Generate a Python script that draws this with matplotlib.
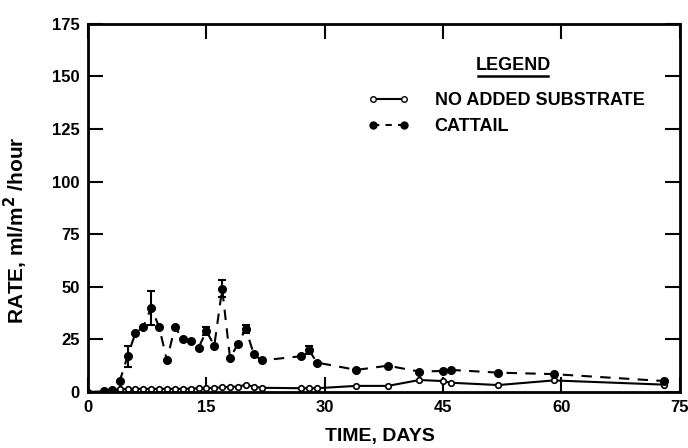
import numpy as np
import matplotlib
matplotlib.use('Agg')
from matplotlib import pyplot as plt
from matplotlib.lines import Line2D

# 資料 (從圖上讀取的估計值)
days_none = [0, 2, 3, 4, 5, 6, 7, 8, 9, 10, 11, 12, 13, 14, 15, 16, 17, 18, 19, 20, 21, 22,
             27, 28, 29, 34, 38, 42, 45, 46, 52, 59, 73]
rate_none = [0, 0.3, 0.8, 1.2, 1.4, 1.5, 1.5, 1.5, 1.5, 1.5, 1.5, 1.5, 1.6, 1.8, 1.8, 2.0, 2.2, 2.5, 2.5, 3.5, 2.5, 2.0,
             1.8, 1.8, 1.8, 2.9, 2.9, 5.7, 5.2, 4.4, 3.3, 5.5, 3.5]

days_cattail = [2, 3, 4, 5, 6, 7, 8, 9, 10, 11, 12, 13, 14, 15, 16, 17, 18, 19, 20, 21, 22,
                27, 28, 29, 34, 38, 42, 45, 46, 52, 59, 73]
rate_cattail = [0.3, 1, 5, 17, 28, 31, 40, 31, 15, 31, 25, 24, 21, 29, 22, 49, 16, 23, 30, 18, 15,
                17, 20, 14, 10.5, 12.5, 9.7, 10, 10.5, 9.2, 8.5, 5.2]
err_cattail = [0, 0, 0, 5, 0, 0, 8, 0, 0, 0, 0, 0, 0, 2, 0, 4, 0, 0, 2, 0, 0,
               0, 2, 0, 0, 0, 0, 0, 0, 0, 0, 0]

xticks = [0, 15, 30, 45, 60, 75]
yticks = [0, 25, 50, 75, 100, 125, 150, 175]

plt.rcParams['font.family'] = ['Liberation Sans', 'DejaVu Sans']
plt.rcParams['font.weight'] = 'bold'

fig = plt.figure(figsize=(6.88, 4.48), dpi=100)
ax = fig.add_axes([0.128, 0.125, 0.86, 0.822])

ax.plot(days_none, rate_none, '-', color='black', lw=1.5,
        marker='o', ms=4, mfc='white', mec='black', mew=1.2)
ax.errorbar(days_cattail, rate_cattail, yerr=err_cattail, fmt='o', ls=(0, (5, 4)),
            color='black', lw=1.5, ms=5.5, capsize=3, elinewidth=1.5, capthick=1.5)

ax.set_xlim(0, 75)
ax.set_ylim(0, 175)
ax.set_xticks(xticks)
ax.set_yticks(yticks)
ax.tick_params(direction='in', length=11, width=1.5, top=True, right=True,
               labelsize=12, pad=6)
for s in ax.spines.values():
    s.set_linewidth(2)

ax.set_xlabel('TIME, DAYS', fontsize=14, fontweight='bold', va='center')
ax.xaxis.set_label_coords(0.493, -0.122)
ax.set_ylabel('RATE, ml/m$^\\mathbf{2}$ /hour', fontsize=15, fontweight='bold', va='center')
ax.yaxis.set_label_coords(-0.122, 0.44)

# 圖例
ax.text(0.718, 0.886, 'LEGEND', transform=ax.transAxes, fontsize=13,
        fontweight='bold', ha='center', va='center')
ax.add_line(Line2D([0.659, 0.777], [0.857, 0.857], transform=ax.transAxes,
                   color='black', lw=1.8))
h1 = Line2D([], [], color='black', lw=1.5, marker='o', ms=4, mfc='white', mec='black')
h2 = Line2D([], [], color='black', lw=1.5, ls=(0, (3, 3)), marker='o', ms=5)
ax.legend([h1, h2], ['NO ADDED SUBSTRATE', 'CATTAIL'], loc='upper left',
          bbox_to_anchor=(0.473, 0.814), frameon=False, numpoints=2,
          borderpad=0, borderaxespad=0,
          handlelength=2.3, handletextpad=1.4, labelspacing=0.5,
          prop={'size': 13, 'weight': 'bold'})

fig.savefig('out.png', dpi=100)
